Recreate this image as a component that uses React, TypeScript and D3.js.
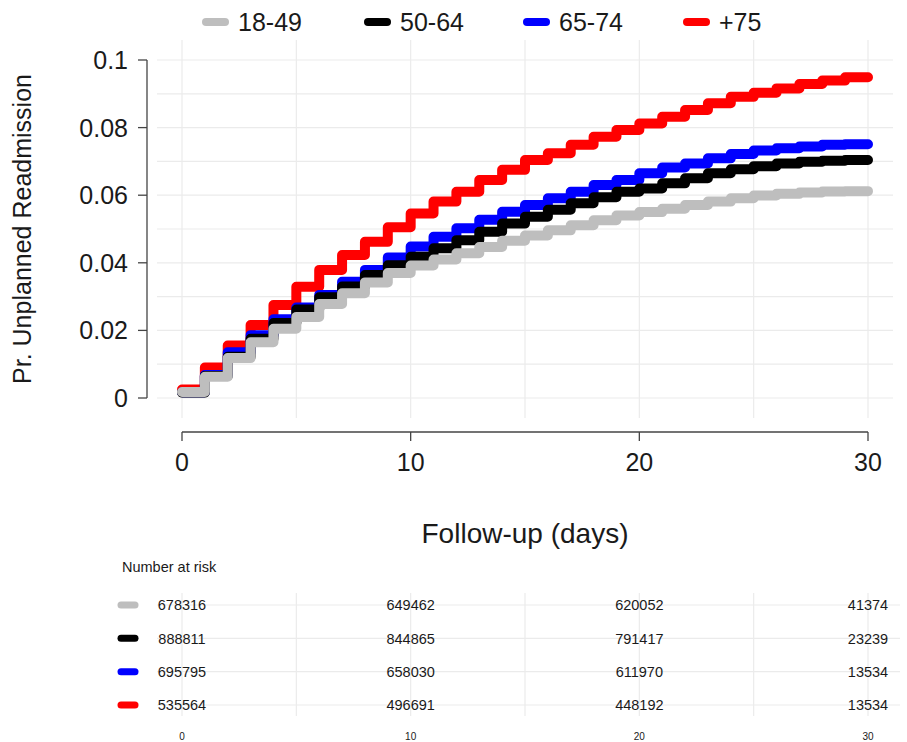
import { useEffect, useRef } from "react"
import * as d3 from "d3"

const groups = ["18-49", "50-64", "65-74", "+75"]
const colors = ["#bebebe", "#000000", "#0000ff", "#ff0000"]

// cumulative incidence, value held from day k to k+1 (k = 0..29)
const cif1849 = [
  0.0018, 0.0063, 0.0118, 0.0165, 0.0205, 0.024, 0.0278, 0.031, 0.0342, 0.037,
  0.0392, 0.041, 0.0428, 0.0447, 0.0465, 0.0481, 0.0496, 0.0511, 0.0526, 0.054,
  0.055, 0.056, 0.0571, 0.0581, 0.0591, 0.0599, 0.0604, 0.0608, 0.0611, 0.0612,
]
const cif5064 = [
  0.0016, 0.0065, 0.0122, 0.0175, 0.0222, 0.0262, 0.0298, 0.033, 0.0364, 0.0393,
  0.0418, 0.0443, 0.0467, 0.0492, 0.0516, 0.0536, 0.0557, 0.0576, 0.0594, 0.061,
  0.062, 0.0635, 0.065, 0.0665, 0.0677, 0.0686, 0.0694, 0.0699, 0.0702, 0.0704,
]
const cif6574 = [
  0.0017, 0.0068, 0.0135, 0.0186, 0.0233, 0.0268, 0.0305, 0.0344, 0.0379, 0.0416,
  0.0448, 0.0477, 0.0502, 0.0527, 0.0551, 0.0571, 0.0591, 0.061, 0.063, 0.0645,
  0.0665, 0.0682, 0.0694, 0.0709, 0.0722, 0.0732, 0.0739, 0.0744, 0.0749, 0.0751,
]
const cif75 = [
  0.0025, 0.009, 0.0155, 0.0216, 0.0275, 0.0329, 0.0379, 0.0423, 0.0462, 0.0505,
  0.0546, 0.0581, 0.061, 0.0645, 0.0675, 0.0704, 0.0724, 0.0749, 0.0773, 0.0793,
  0.0812, 0.0832, 0.0852, 0.0872, 0.0891, 0.0903, 0.0916, 0.0929, 0.0939, 0.0949,
]
const series = [cif1849, cif5064, cif6574, cif75]

const xTicks = [0, 10, 20, 30]
const yTicks = [0, 0.02, 0.04, 0.06, 0.08, 0.1]

const riskTimes = [0, 10, 20, 30]
const risk1849 = [678316, 649462, 620052, 41374]
const risk5064 = [888811, 844865, 791417, 23239]
const risk6574 = [695795, 658030, 611970, 13534]
const risk75 = [535564, 496691, 448192, 13534]
const riskRows = [risk1849, risk5064, risk6574, risk75]

const FONT = "'Liberation Sans', Arial, sans-serif"
const GRID = "#ebebeb"
const INK = "#1a1a1a"

export default function App() {
  const svgRef = useRef<SVGSVGElement>(null)

  useEffect(() => {
    const svg = d3.select(svgRef.current)
    svg.selectAll("*").remove()

    const x = d3.scaleLinear().domain([0, 30]).range([182, 868])
    const y = d3.scaleLinear().domain([0, 0.1]).range([398, 60])
    const gridX = d3.range(0, 31, 5)

    // plot panel grid
    const grid = svg.append("g")
    grid
      .selectAll(".vg")
      .data(gridX)
      .join("line")
      .attr("x1", (d) => x(d))
      .attr("x2", (d) => x(d))
      .attr("y1", 40)
      .attr("y2", 418)
      .attr("stroke", GRID)
      .attr("stroke-width", 1.2)
    grid
      .selectAll(".hg")
      .data(y.ticks(10))
      .join("line")
      .attr("x1", 157)
      .attr("x2", 893)
      .attr("y1", (d) => y(d))
      .attr("y2", (d) => y(d))
      .attr("stroke", GRID)
      .attr("stroke-width", 1.2)

    // curves, oldest group on top
    const line = d3
      .line<[number, number]>()
      .x((d) => x(d[0]))
      .y((d) => y(d[1]))
      .curve(d3.curveStepAfter)

    const order = [3, 2, 1, 0]
    svg
      .append("g")
      .selectAll("path")
      .data(order)
      .join("path")
      .attr("d", (i) => {
        const vals = series[i]
        const pts: [number, number][] = vals.map((v, k) => [k, v])
        pts.push([30, vals[vals.length - 1]])
        return line(pts)
      })
      .attr("fill", "none")
      .attr("stroke", (i) => colors[i])
      .attr("stroke-width", 10)
      .attr("stroke-linecap", "round")
      .attr("stroke-linejoin", "round")

    // y axis
    const yAxis = svg.append("g")
    yAxis
      .append("line")
      .attr("x1", 147)
      .attr("x2", 147)
      .attr("y1", y(0.1))
      .attr("y2", y(0))
      .attr("stroke", "#444")
      .attr("stroke-width", 1.3)
    yAxis
      .selectAll(".yt")
      .data(yTicks)
      .join("line")
      .attr("x1", 138)
      .attr("x2", 147)
      .attr("y1", (d) => y(d))
      .attr("y2", (d) => y(d))
      .attr("stroke", "#444")
      .attr("stroke-width", 1.3)
    yAxis
      .selectAll("text")
      .data(yTicks)
      .join("text")
      .attr("x", 128)
      .attr("y", (d) => y(d))
      .attr("dy", "0.36em")
      .attr("text-anchor", "end")
      .attr("font-size", 25)
      .attr("fill", INK)
      .text((d) => String(d))

    svg
      .append("text")
      .attr("transform", `translate(31, ${(y(0) + y(0.1)) / 2}) rotate(-90)`)
      .attr("text-anchor", "middle")
      .attr("font-size", 25)
      .attr("fill", INK)
      .text("Pr. Unplanned Readmission")

    // x axis
    const xAxis = svg.append("g")
    xAxis
      .append("line")
      .attr("x1", x(0))
      .attr("x2", x(30))
      .attr("y1", 432)
      .attr("y2", 432)
      .attr("stroke", "#444")
      .attr("stroke-width", 1.3)
    xAxis
      .selectAll(".xt")
      .data(xTicks)
      .join("line")
      .attr("x1", (d) => x(d))
      .attr("x2", (d) => x(d))
      .attr("y1", 432)
      .attr("y2", 441)
      .attr("stroke", "#444")
      .attr("stroke-width", 1.3)
    xAxis
      .selectAll("text")
      .data(xTicks)
      .join("text")
      .attr("x", (d) => x(d))
      .attr("y", 471)
      .attr("text-anchor", "middle")
      .attr("font-size", 25)
      .attr("fill", INK)
      .text((d) => d)

    svg
      .append("text")
      .attr("x", 525)
      .attr("y", 543)
      .attr("text-anchor", "middle")
      .attr("font-size", 28)
      .attr("fill", INK)
      .text("Follow-up (days)")

    // legend
    const legendX = [202, 364, 523, 683]
    const legend = svg
      .append("g")
      .selectAll("g")
      .data(groups)
      .join("g")
      .attr("transform", (d, i) => `translate(${legendX[i]}, 22)`)
    legend
      .append("line")
      .attr("x1", 4)
      .attr("x2", 23)
      .attr("stroke", (d, i) => colors[i])
      .attr("stroke-width", 8)
      .attr("stroke-linecap", "round")
    legend
      .append("text")
      .attr("x", 36)
      .attr("dy", "0.36em")
      .attr("font-size", 25)
      .attr("fill", INK)
      .text((d) => d)

    // number at risk table
    const rowY = d3.scalePoint<string>().domain(groups).range([605, 705])
    svg
      .append("text")
      .attr("x", 122)
      .attr("y", 567)
      .attr("dy", "0.36em")
      .attr("font-size", 14.5)
      .attr("fill", INK)
      .text("Number at risk")

    const table = svg.append("g")
    table
      .selectAll(".tv")
      .data(gridX)
      .join("line")
      .attr("x1", (d) => x(d))
      .attr("x2", (d) => x(d))
      .attr("y1", 593)
      .attr("y2", 716)
      .attr("stroke", GRID)
      .attr("stroke-width", 1.2)
    table
      .selectAll(".th")
      .data(groups)
      .join("line")
      .attr("x1", 157)
      .attr("x2", 900)
      .attr("y1", (d) => rowY(d)!)
      .attr("y2", (d) => rowY(d)!)
      .attr("stroke", GRID)
      .attr("stroke-width", 1.2)

    const rows = svg
      .append("g")
      .selectAll("g")
      .data(groups)
      .join("g")
      .attr("transform", (d) => `translate(0, ${rowY(d)})`)
    rows
      .append("line")
      .attr("x1", 121)
      .attr("x2", 135)
      .attr("stroke", (d, i) => colors[i])
      .attr("stroke-width", 7)
      .attr("stroke-linecap", "round")
    rows
      .selectAll("text")
      .data((d, i) => riskRows[i].map((n, j) => ({ n, t: riskTimes[j] })))
      .join("text")
      .attr("x", (d) => x(d.t))
      .attr("dy", "0.36em")
      .attr("text-anchor", "middle")
      .attr("font-size", 14.5)
      .attr("fill", INK)
      .text((d) => d.n)

    // bottom time labels of the table
    svg
      .append("g")
      .selectAll("text")
      .data(riskTimes)
      .join("text")
      .attr("x", (d) => x(d))
      .attr("y", 740)
      .attr("text-anchor", "middle")
      .attr("font-size", 10)
      .attr("fill", INK)
      .text((d) => d)
  }, [])

  return (
    <svg
      ref={svgRef}
      width={907}
      height={742}
      style={{ position: "absolute", left: 0, top: 0, background: "#fff", fontFamily: FONT }}
    />
  )
}
